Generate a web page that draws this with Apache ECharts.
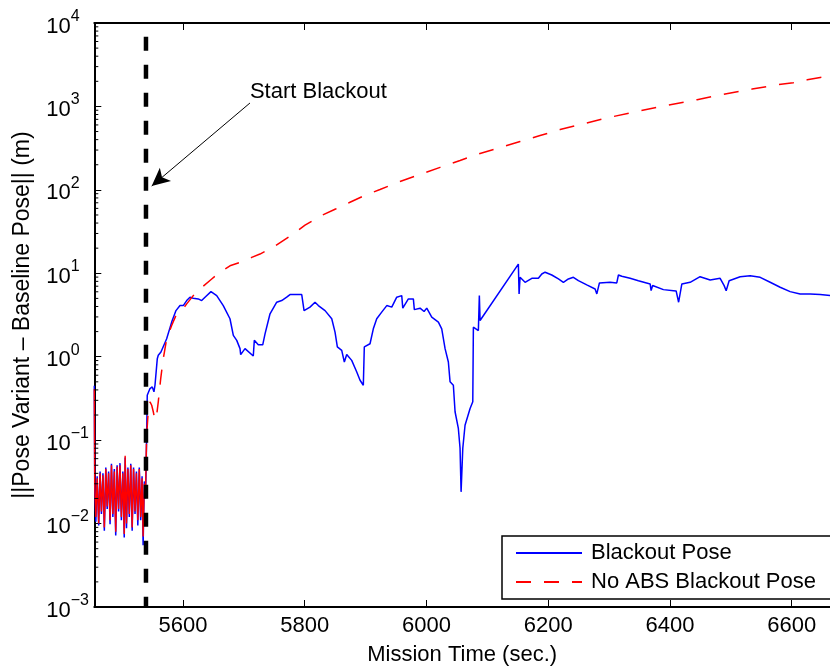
<!DOCTYPE html>
<html>
<head>
<meta charset="utf-8">
<script src="https://cdn.jsdelivr.net/npm/echarts@6/dist/echarts.min.js"></script>
<style>
  html, body { margin: 0; padding: 0; background: #fff; }
  #chart { width: 830px; height: 671px; }
</style>
</head>
<body>
<div id="chart"></div>
<script>
// Axis ticks
const xTicks = [5600, 5800, 6000, 6200, 6400, 6600];
const yTicks = [0.001, 0.01, 0.1, 1, 10, 100, 1000, 10000];
const minorMultipliers = [2, 3, 4, 5, 6, 7, 8, 9];
const xRange = [5454.3, 6663];

// Blackout marker and its annotation
const blackoutTime = 5539.2;
const blackoutSpan = [6850, 0.001];
const annotationText = 'Start Blackout';
const annotationAt = [5710, 1500];
const arrowFrom = [5710.1, 1100];
const arrowTo = [5548.6, 111];

const seriesNames = ['Blackout Pose', 'No ABS Blackout Pose'];

// Blackout Pose error (m) against mission time (s)
const blueTime = [
  5454.3, 5455.0, 5456.8, 5459.0, 5461.5, 5463.8, 5466.0, 5468.5, 5470.8, 5473.2,
  5475.5, 5477.8, 5480.2, 5482.5, 5484.8, 5487.2, 5489.5, 5491.8, 5494.2, 5496.5,
  5498.8, 5501.2, 5503.5, 5505.0, 5507.2, 5509.5, 5511.8, 5514.2, 5516.5, 5518.8,
  5521.2, 5523.5, 5525.8, 5528.2, 5530.5, 5532.8, 5534.5, 5536.5, 5538.5, 5539.5,
  5540.3, 5541.3, 5545.8, 5549.5, 5552.3, 5554.0, 5557.8, 5559.4, 5563.8, 5573.2,
  5581.4, 5588.5, 5595.1, 5600.5, 5606.1, 5611.5, 5616.9, 5625.1, 5630.7, 5636.2,
  5646.0, 5655.4, 5666.2, 5677.2, 5682.7, 5688.3, 5693.7, 5694.8, 5701.9, 5715.5,
  5717.2, 5723.7, 5731.0, 5734.8, 5743.0, 5754.0, 5762.2, 5770.4, 5775.8, 5795.1,
  5798.9, 5808.7, 5816.9, 5822.4, 5833.4, 5844.4, 5849.8, 5853.6, 5860.8, 5865.1,
  5869.0, 5877.2, 5885.5, 5890.9, 5896.3, 5897.9, 5907.3, 5912.7, 5918.3, 5926.5,
  5934.8, 5943.0, 5951.2, 5959.4, 5961.1, 5970.3, 5978.5, 5980.1, 5989.5, 5996.1,
  6000.5, 6008.7, 6019.6, 6025.1, 6030.6, 6036.0, 6038.8, 6044.2, 6047.0, 6052.4,
  6055.2, 6056.9, 6059.7, 6063.4, 6071.7, 6076.1, 6077.1, 6085.3, 6086.9, 6088.1,
  6151.0, 6152.2, 6153.8, 6162.0, 6173.1, 6183.9, 6189.5, 6194.9, 6205.9, 6216.8,
  6225.0, 6233.2, 6241.4, 6249.6, 6263.4, 6277.1, 6279.9, 6284.2, 6301.7, 6312.7,
  6315.4, 6320.9, 6334.6, 6348.2, 6367.5, 6369.1, 6371.6, 6389.3, 6405.8, 6410.2,
  6414.3, 6419.6, 6433.2, 6449.6, 6466.1, 6482.5, 6489.1, 6492.4, 6497.3, 6515.4,
  6531.8, 6548.3, 6564.7, 6581.1, 6597.5, 6614.0, 6630.4, 6646.9, 6663.3
];
const blueValue = [
  0.45, 0.028, 0.0105, 0.037, 0.0095, 0.042, 0.013, 0.04, 0.0082, 0.047,
  0.015, 0.042, 0.0098, 0.052, 0.012, 0.045, 0.0072, 0.05, 0.014, 0.053,
  0.011, 0.042, 0.0068, 0.062, 0.0088, 0.047, 0.012, 0.052, 0.0082, 0.047,
  0.013, 0.042, 0.0095, 0.047, 0.011, 0.037, 0.0055, 0.032, 0.02, 0.05,
  0.115, 0.345, 0.415, 0.435, 0.38, 0.455, 0.947, 1.04, 1.14, 1.64,
  2.60, 3.57, 4.10, 4.10, 4.71, 5.17, 5.02, 4.93, 4.71, 5.17,
  6.03, 5.40, 4.10, 2.85, 1.80, 1.57, 1.25, 1.06, 1.25, 1.02,
  1.57, 1.39, 1.39, 1.88, 3.27, 4.50, 4.71, 5.17, 5.55, 5.55,
  3.57, 3.93, 4.50, 4.10, 3.57, 2.85, 1.97, 1.31, 1.19, 0.865,
  1.06, 0.904, 0.657, 0.522, 0.455, 1.31, 1.43, 2.16, 2.85, 3.42,
  4.10, 3.93, 5.17, 5.40, 3.82, 4.93, 4.93, 3.67, 3.82, 3.48,
  3.82, 2.98, 2.60, 2.16, 1.25, 0.865, 0.50, 0.455, 0.219, 0.138,
  0.080, 0.024, 0.080, 0.151, 0.24, 0.288, 2.26, 2.06, 5.40, 2.72,
  12.9, 5.66, 8.95, 7.80, 8.71, 8.71, 9.80, 10.3, 9.54, 8.55,
  7.80, 8.55, 8.95, 8.15, 7.25, 6.49, 5.66, 7.66, 7.80, 7.66,
  9.54, 9.20, 8.71, 8.15, 7.45, 6.19, 7.15, 6.37, 6.19, 6.14,
  4.50, 7.45, 7.80, 9.10, 8.31, 8.71, 7.11, 6.19, 8.15, 9.10,
  9.36, 8.95, 7.80, 6.80, 6.03, 5.66, 5.66, 5.55, 5.40
];

// No ABS Blackout Pose error (m) against mission time (s)
const redTime = [
  5454.3, 5455.0, 5456.8, 5459.0, 5461.5, 5463.8, 5466.0, 5468.5, 5470.8, 5473.2,
  5475.5, 5477.8, 5480.2, 5482.5, 5484.8, 5487.2, 5489.5, 5491.8, 5494.2, 5496.5,
  5498.8, 5501.2, 5503.5, 5505.0, 5507.2, 5509.5, 5511.8, 5514.2, 5516.5, 5518.8,
  5521.2, 5523.5, 5525.8, 5528.2, 5530.5, 5532.8, 5534.5, 5536.5, 5538.5, 5539.5,
  5540.3, 5542.9, 5545.8, 5548.6, 5551.2, 5554.0, 5556.8, 5559.4, 5563.4, 5567.6,
  5573.2, 5581.4, 5589.6, 5597.9, 5606.1, 5616.9, 5627.9, 5647.2, 5660.8, 5677.2,
  5693.7, 5712.9, 5726.5, 5751.2, 5775.8, 5800.5, 5825.1, 5849.8, 5874.4, 5899.1,
  5923.7, 5956.6, 5989.5, 6022.4, 6055.2, 6088.1, 6121.0, 6153.8, 6186.7, 6219.6,
  6252.4, 6298.4, 6352.7, 6392.2, 6444.7, 6484.2, 6535.1, 6576.2, 6602.5, 6625.5,
  6646.9, 6663.3
];
const redValue = [
  0.41, 0.03, 0.012, 0.035, 0.01, 0.04, 0.014, 0.038, 0.009, 0.045,
  0.016, 0.04, 0.011, 0.05, 0.013, 0.042, 0.008, 0.048, 0.015, 0.05,
  0.012, 0.04, 0.0075, 0.065, 0.01, 0.045, 0.013, 0.05, 0.009, 0.045,
  0.014, 0.04, 0.011, 0.045, 0.012, 0.035, 0.007, 0.03, 0.025, 0.06,
  0.115, 0.219, 0.288, 0.262, 0.219, 0.174, 0.20, 0.288, 0.547, 0.947,
  1.64, 2.37, 3.27, 3.57, 4.30, 5.40, 6.49, 8.55, 10.3, 12.3,
  13.5, 15.5, 17.0, 21.2, 27.9, 37.7, 48.3, 58.5, 71, 86,
  101, 126, 153, 186, 225, 273, 322, 380, 448, 528,
  606, 734, 890, 1021, 1204, 1381, 1616, 1818, 1921, 2087,
  2223, 2330
];

const FONT = "'Liberation Sans', Arial, Helvetica, sans-serif";

const pairs = (ts, vs) => ts.map((t, i) => [t, vs[i]]);

// The dense pre-blackout stretch of the dashed trace reads as solid red:
// its segments are shorter than one dash, so it is stroked without gaps.
const redPairs = pairs(redTime, redValue);
const redDenseEnd = redTime.findIndex(t => t > blackoutTime);
const redDense = redPairs.slice(0, redDenseEnd + 1);
const redSparse = redPairs.slice(redDenseEnd);

// log-axis minor tick positions: 2..9 within each decade
const minorTickValues = [];
yTicks.slice(0, -1).forEach(d => {
  minorMultipliers.forEach(m => minorTickValues.push(+(d * m).toPrecision(3)));
});

function powerLabel(v) {
  const e = Math.round(Math.log10(v));
  const s = e < 0 ? '\u2212' + (-e) : String(e);
  return '{b|10}{e|' + s + '}';
}

const chart = echarts.init(document.getElementById('chart'), null, { renderer: 'canvas' });

chart.setOption({
  animation: false,
  backgroundColor: '#fff',
  textStyle: { fontFamily: FONT, color: '#000' },
  grid: { left: 94.3, right: 0, top: 23, bottom: 61.5, containLabel: false },
  legend: {
    data: seriesNames,
    orient: 'vertical',
    left: 502,
    top: 536,
    padding: [5, 16, 5, 13],
    itemGap: 5,
    itemWidth: 66,
    itemHeight: 14,
    borderColor: '#000',
    borderWidth: 1.5,
    borderRadius: 0,
    backgroundColor: '#fff',
    selectedMode: false,
    itemStyle: { opacity: 0 },
    textStyle: { fontFamily: FONT, fontSize: 22, color: '#000', lineHeight: 24, padding: [0, 0, 0, 4] }
  },
  xAxis: [
    {
      type: 'value',
      min: xRange[0],
      max: xRange[1],
      position: 'bottom',
      name: 'Mission Time (sec.)',
      nameLocation: 'middle',
      nameGap: 37,
      nameTextStyle: { fontFamily: FONT, fontSize: 22, color: '#000' },
      axisLine: { show: true, onZero: false, lineStyle: { color: '#000', width: 2 } },
      axisTick: { show: true, inside: true, length: 7, customValues: xTicks, lineStyle: { color: '#000', width: 1 } },
      axisLabel: {
        show: true, customValues: xTicks, margin: 8,
        formatter: v => String(v),
        fontFamily: FONT, fontSize: 22, color: '#000', lineHeight: 22
      },
      splitLine: { show: false }
    },
    {
      type: 'value',
      min: xRange[0],
      max: xRange[1],
      position: 'top',
      axisLine: { show: true, onZero: false, lineStyle: { color: '#000', width: 2 } },
      axisTick: { show: true, inside: true, length: 7, customValues: xTicks, lineStyle: { color: '#000', width: 1 } },
      axisLabel: { show: false },
      splitLine: { show: false }
    }
  ],
  yAxis: {
    type: 'log',
    logBase: 10,
    min: yTicks[0],
    max: yTicks[yTicks.length - 1],
    splitNumber: 7,
    name: '||Pose Variant \u2013 Baseline Pose|| (m)',
    nameLocation: 'middle',
    nameGap: 60,
    nameTextStyle: { fontFamily: FONT, fontSize: 23, color: '#000' },
    axisLine: { show: true, onZero: false, lineStyle: { color: '#000', width: 2 } },
    axisTick: { show: true, inside: true, length: 7, lineStyle: { color: '#000', width: 1 } },
    minorTick: { show: false },
    axisLabel: {
      show: true,
      align: 'left',
      margin: 48,
      formatter: powerLabel,
      rich: {
        b: { fontFamily: FONT, fontSize: 22, color: '#000', lineHeight: 29, verticalAlign: 'bottom' },
        e: { fontFamily: FONT, fontSize: 16, color: '#000', lineHeight: 22, verticalAlign: 'top' }
      }
    },
    splitLine: { show: false }
  },
  series: [
    {
      type: 'custom',
      silent: true,
      xAxisIndex: 0,
      clip: false,
      data: minorTickValues.map(v => [xRange[0], v]),
      renderItem: function (params, api) {
        const p = api.coord([api.value(0), api.value(1)]);
        return {
          type: 'line',
          shape: { x1: p[0], y1: p[1], x2: p[0] + 4, y2: p[1] },
          style: { stroke: '#000', lineWidth: 1 }
        };
      },
      z: 5
    },
    {
      name: seriesNames[0],
      type: 'line',
      data: pairs(blueTime, blueValue),
      symbol: 'none',
      showSymbol: false,
      color: '#0000ff',
      lineStyle: { color: '#0000ff', width: 1.5 },
      z: 2
    },
    {
      name: seriesNames[1],
      type: 'line',
      data: redSparse,
      symbol: 'none',
      showSymbol: false,
      color: '#ff0000',
      lineStyle: { color: '#ff0000', width: 1.5, type: [15, 13] },
      z: 3
    },
    {
      name: seriesNames[1],
      type: 'line',
      data: redDense,
      symbol: 'none',
      showSymbol: false,
      color: '#ff0000',
      lineStyle: { color: '#ff0000', width: 1.4, type: 'solid' },
      z: 3
    },
    {
      name: 'blackout',
      type: 'line',
      data: [[blackoutTime, blackoutSpan[0]], [blackoutTime, blackoutSpan[1]]],
      symbol: 'none',
      showSymbol: false,
      color: '#000',
      lineStyle: { color: '#000', width: 4.5, type: [14, 14] },
      z: 4,
      markLine: {
        silent: true,
        symbol: ['none', 'arrow'],
        symbolSize: [13, 18],
        label: { show: false },
        lineStyle: { color: '#000', width: 1, type: 'solid' },
        data: [[{ coord: arrowFrom }, { coord: arrowTo }]]
      },
      markPoint: {
        silent: true,
        symbol: 'circle',
        symbolSize: 0,
        data: [{
          coord: annotationAt,
          label: {
            show: true,
            formatter: annotationText,
            position: 'right',
            distance: 0,
            fontFamily: FONT,
            fontSize: 22,
            color: '#000'
          }
        }]
      }
    }
  ]
});
</script>
</body>
</html>
